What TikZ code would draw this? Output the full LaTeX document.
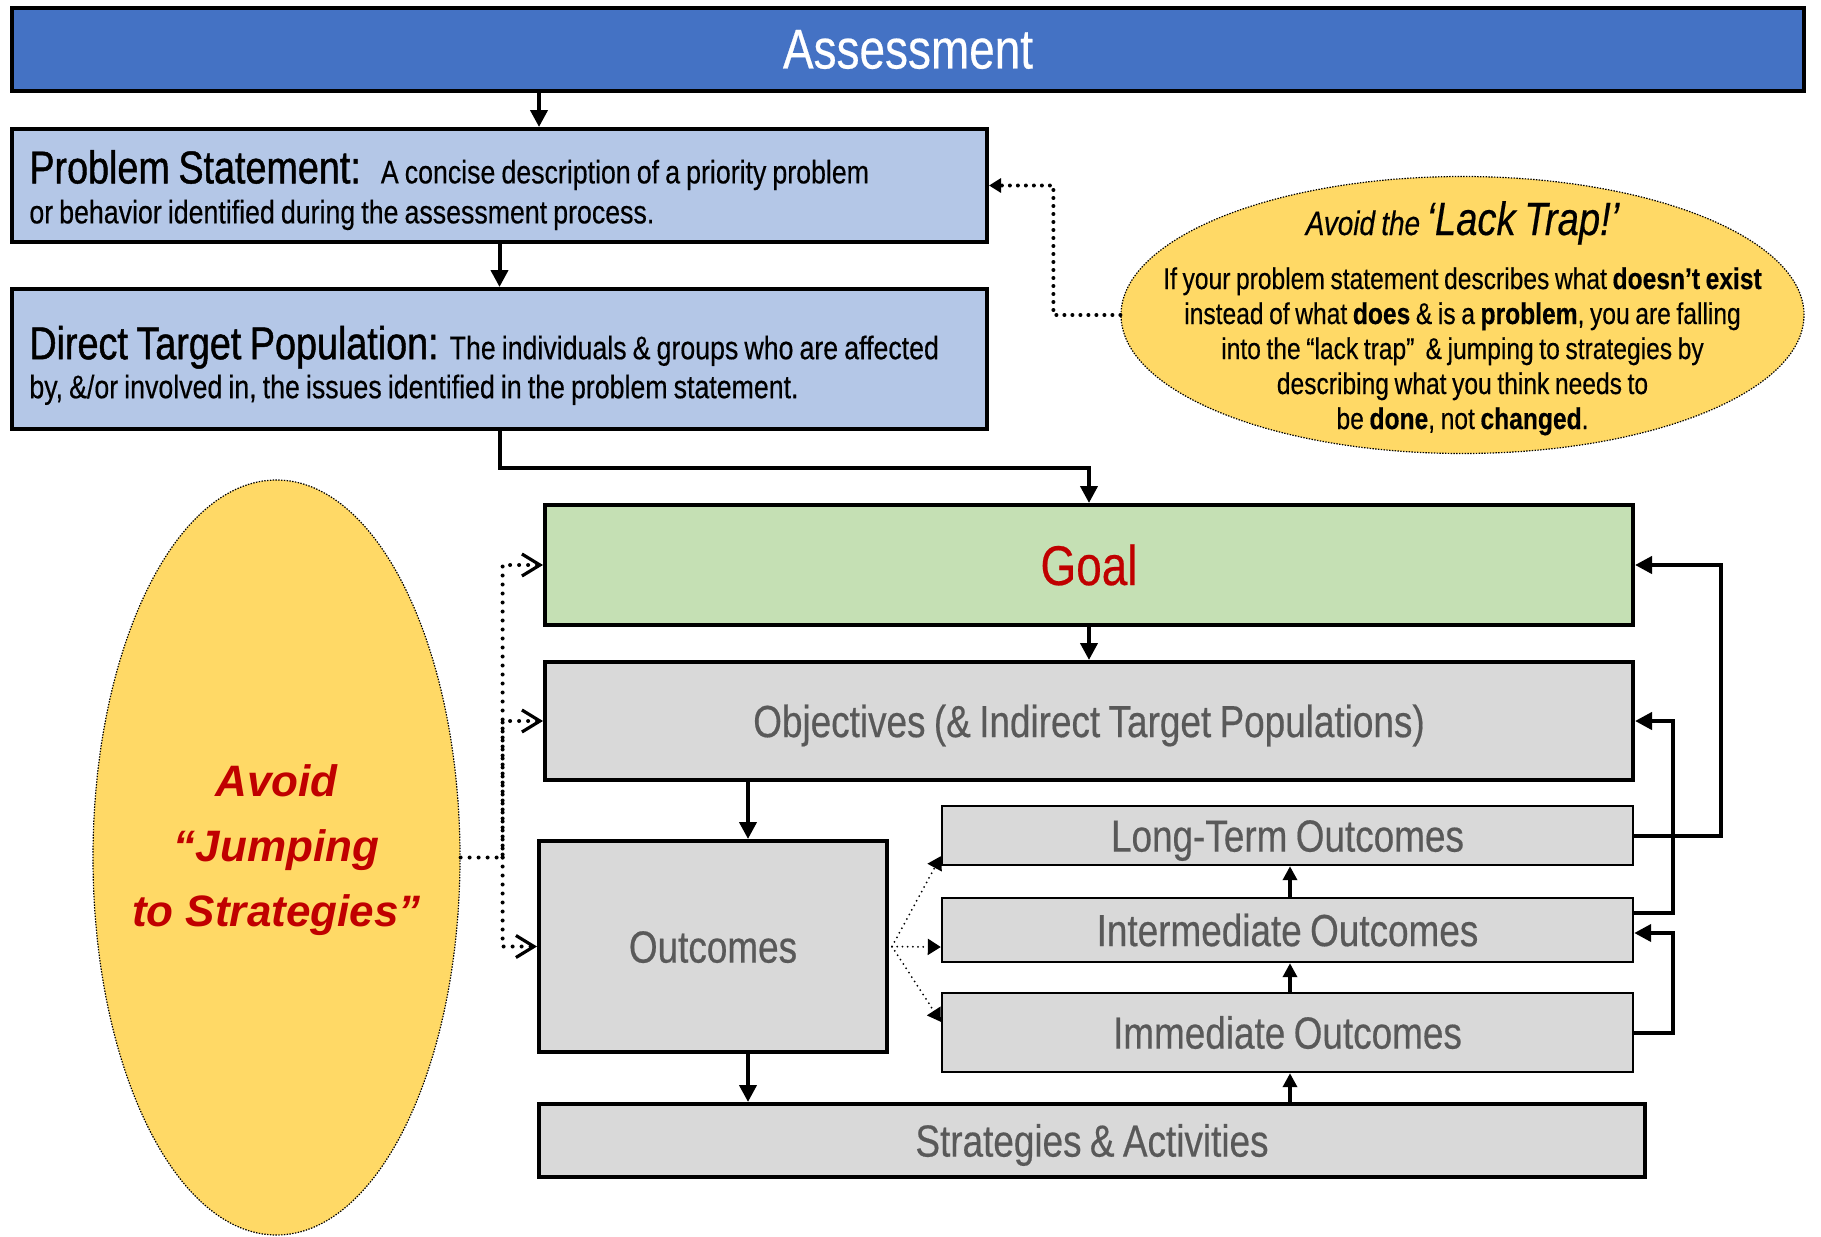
\documentclass[tikz,border=0pt]{standalone}
\usepackage{fontspec}
\setmainfont{Liberation Sans}[FakeStretch=0.82, WordSpace=0.82, FakeBold=0.4]
\newfontfamily\headfam{Liberation Sans}[FakeStretch=0.82, WordSpace=0.82, FakeBold=1]
\newfontfamily\jumpfont{Liberation Sans}
\usetikzlibrary{arrows.meta,shapes.geometric}
\definecolor{hdrblue}{HTML}{4472C4}
\definecolor{lightblue}{HTML}{B4C7E7}
\definecolor{lightgreen}{HTML}{C5E0B4}
\definecolor{boxgrey}{HTML}{D9D9D9}
\definecolor{textgrey}{HTML}{595959}
\definecolor{darkred}{HTML}{C00000}
\definecolor{noteyellow}{HTML}{FFD966}
\newcommand\myBody{\fontsize{16.3}{20}\selectfont}
\newcommand\myHead{\headfam\fontsize{23}{20}\selectfont}
\newcommand\myBig{\fontsize{28}{30}\selectfont}
\newcommand\myMid{\fontsize{22.5}{24}\selectfont}
\tikzset{
  mainbox/.style={draw=black, line width=2pt, inner sep=0pt, rectangle, align=center},
  bluebox/.style={mainbox, fill=lightblue, minimum width=487.5pt},
  bluetext/.style={anchor=west, align=flush left, inner sep=0pt, text width=470pt, font=\myBody},
  greybox/.style={mainbox, fill=boxgrey, text=textgrey, font=\myMid, text height=16.1pt, text depth=0pt},
  subbox/.style={draw=black, line width=1.2pt, inner sep=0pt, rectangle, fill=boxgrey, text=textgrey, font=\myMid, minimum width=345.5pt, text height=16.1pt, text depth=0pt},
  note/.style={ellipse, draw=black, fill=noteyellow, line width=0.6pt, dash pattern=on 0.7pt off 0.7pt, inner sep=0pt},
  conn/.style={line width=2pt, -{Triangle[length=8.5pt,width=8.5pt]}},
  upconn/.style={line width=2pt, -{Triangle[length=7pt,width=7pt]}},
  fanconn/.style={line width=1pt, dash pattern=on 0pt off 2.6pt, line cap=round, -{Triangle[length=6.5pt,width=8pt]}},
  jumpconn/.style={line width=2pt, dash pattern=on 0pt off 4.5pt, line cap=round, -{Straight Barb[length=9pt,width=11pt,line width=1.6pt]}},
  lackconn/.style={line width=2pt, dash pattern=on 0pt off 4pt, line cap=round, -{Triangle[length=6pt,width=7pt]}}
}
\begin{document}
\begin{tikzpicture}[x=0.5pt,y=-0.5pt]
\useasboundingbox (0,0) rectangle (1821,1237);

% boxes
\node[mainbox, fill=hdrblue, text=white, font=\myBig, minimum width=896pt, minimum height=41.5pt] (assess) at (908,49.5) {Assessment};
\node[bluebox, minimum height=56.5pt] (prob) at (499.5,185.5) {};
\node[bluetext] (probtext) at ([xshift=9.5pt,yshift=-2.3pt]prob.west)
  {{\myHead Problem Statement:}\hspace{10pt}A concise description of a priority problem\\ or behavior identified during the assessment process.};
\node[bluebox, minimum height=70pt] (dtp) at (499.5,359) {};
\node[bluetext, font=\fontsize{16.3}{19.5}\selectfont] (dtptext) at ([xshift=9.5pt,yshift=-3.2pt]dtp.west)
  {{\myHead Direct Target Population:}\hspace{5.5pt}The individuals \& groups who are affected\\ by, \&/or involved in, the issues identified in the problem statement.};
\node[mainbox, fill=lightgreen, text=darkred, font=\myBig, minimum width=544pt, minimum height=60pt] (goal) at (1089,565) {Goal};
\node[greybox, minimum width=544pt, minimum height=59pt] (obj) at (1089,721) {Objectives (\& Indirect Target Populations)};
\node[greybox, minimum width=174pt, minimum height=105.5pt] (outc) at (713,946.5) {Outcomes};
\node[subbox, minimum height=29.5pt] (lt) at (1287.5,835.5) {Long-Term Outcomes};
\node[subbox, minimum height=32pt] (int) at (1287.5,930) {Intermediate Outcomes};
\node[subbox, minimum height=39.5pt] (imm) at (1287.5,1032.5) {Immediate Outcomes};
\node[greybox, minimum width=553pt, minimum height=36.5pt] (strat) at (1092,1140.5) {Strategies \& Activities};

% notes
\node[note, minimum width=341.5pt, minimum height=138.5pt] (lack) at (1462.5,315) {};
\node[align=flush center, font=\fontsize{15}{17.5}\selectfont, inner sep=0pt] (lacktext) at (1462.5,318.3)
  {{\itshape\fontsize{17}{17.5}\selectfont Avoid the {\fontsize{23.3}{17.5}\selectfont ‘Lack Trap!’}}\\[9.5pt]
   If your problem statement describes what \textbf{doesn’t exist}\\
   instead of what \textbf{does} \& is a \textbf{problem}, you are falling\\
   into the “lack trap”\ \ \& jumping to strategies by\\
   describing what you think needs to\\
   be \textbf{done}, not \textbf{changed}.};
\node[note, minimum width=183.5pt, minimum height=377.5pt] (jump) at (276.5,857.5) {};
\node[align=flush center, text=darkred, font=\jumpfont\bfseries\itshape\fontsize{22}{32.5}\selectfont, inner sep=0pt] (jumptext) at (276.5,850)
  {Avoid\\ “Jumping\\ to Strategies”};

% helper coordinates
\coordinate (xa) at (539,0);
\coordinate (xo) at (748,0);
\coordinate (xu) at (1290,0);
\coordinate (fan) at ([xshift=1.5pt]outc.east);
\coordinate (jb) at ([xshift=21pt]jump.east);

% main connectors
\draw[conn] (assess.south -| xa) -- (prob.north -| xa);
\draw[conn] (prob.south) -- (dtp.north);
\draw[conn] (dtp.south) -- ++(0,37) -| (goal.north);
\draw[conn] (goal.south) -- (obj.north);
\draw[conn] (obj.south -| xo) -- (outc.north -| xo);
\draw[conn] (outc.south -| xo) -- (strat.north -| xo);
\draw[upconn] (strat.north -| xu) -- (imm.south -| xu);
\draw[upconn] (imm.north -| xu) -- (int.south -| xu);
\draw[upconn] (int.north -| xu) -- (lt.south -| xu);
\draw[conn] (lt.east) -- ++(87,0) |- (goal.east);
\draw[conn] ([yshift=8.5pt]int.east) -- ++(39,0) |- (obj.east);
\draw[conn] (imm.east) -- ++(39,0) |- ([yshift=-1.5pt]int.east);

% fan
\draw[fanconn] (fan) -- ([yshift=5pt]lt.south west);
\draw[fanconn] (fan) -- ([yshift=-8.5pt]int.west);
\draw[fanconn] (fan) -- ([yshift=-15pt]imm.north west);

% notes connectors
\draw[lackconn] (lack.west) -- ++(-67,0) |- (prob.east);
\draw[jumpconn] (jump.east) -- (jb) |- (goal.west);
\draw[jumpconn] (jb) |- (obj.west);
\draw[jumpconn] (jb) |- (outc.west);
\end{tikzpicture}
\end{document}
